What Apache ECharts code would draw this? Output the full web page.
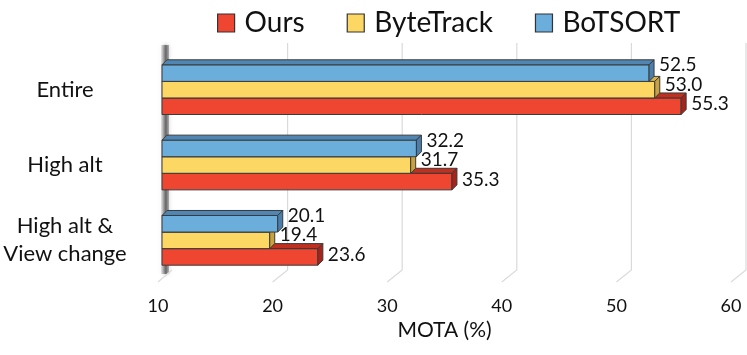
<!DOCTYPE html>
<html>
<head>
<meta charset="utf-8">
<script src="https://cdn.jsdelivr.net/npm/echarts@6/dist/echarts.min.js"></script>
<style>
  html, body { margin: 0; padding: 0; background: #fff; }
  #chart { width: 747px; height: 355px; }
</style>
</head>
<body>
<div id="chart"></div>
<script>
var categories = ['Entire', 'High alt', 'High alt &\nView change'];
var ours = [55.3, 35.3, 23.6];
var byteTrack = [53.0, 31.7, 19.4];
var boTSORT = [52.5, 32.2, 20.1];
var xTicks = [10, 20, 30, 40, 50, 60];

var FONT = 'Lato';
var SHIFT = 4;   // bar front plane sits a bit right of the label plane
var DEPTH = 5;   // 3d depth of bars

var chart = echarts.init(document.getElementById('chart'));

// one bar per category: front face + top + right side + value label
function barItem(slot, faceColors, labelDy) {
    return function (params, api) {
        var v = api.value(0);
        var c = api.value(1);
        var start = api.coord([xTicks[0], c]);
        var end = api.coord([v, c]);
        var band = api.size([0, 1])[1];
        var h = band * 0.22;
        var x0 = start[0] + SHIFT, x1 = end[0] + SHIFT;
        var y0 = start[1] - 1.5 * h + slot * h, y1 = y0 + h;
        var d = DEPTH;
        var stroke = { stroke: '#3a3a3a', lineWidth: 1 };
        return {
            type: 'group',
            children: [{
                type: 'polygon',
                shape: { points: [[x0, y0], [x1, y0], [x1, y1], [x0, y1]] },
                style: Object.assign({ fill: api.visual('color') }, stroke)
            }, {
                type: 'polygon',
                shape: { points: [[x0, y0], [x0 + d, y0 - d], [x1 + d, y0 - d], [x1, y0]] },
                style: Object.assign({ fill: faceColors[0] }, stroke)
            }, {
                type: 'polygon',
                shape: { points: [[x1, y0], [x1 + d, y0 - d], [x1 + d, y1 - d], [x1, y1]] },
                style: Object.assign({ fill: faceColors[1] }, stroke)
            }, {
                type: 'text',
                style: {
                    x: x1 + d + 5,
                    y: (y0 + y1) / 2 + labelDy,
                    text: v.toFixed(1),
                    fill: '#111',
                    font: '19px ' + FONT,
                    verticalAlign: 'middle'
                }
            }]
        };
    };
}

// back wall grid lines with the little floor step, plus the shaded left wall
function gridItem(params, api) {
    var v = api.value(0);
    var p = api.coord([v, 0]);
    var cs = params.coordSys;
    var top = cs.y - 9, bottom = cs.y + cs.height;
    if (v === xTicks[0]) {
        return {
            type: 'group',
            children: [{
                type: 'rect',
                shape: { x: p[0] + SHIFT - 1, y: top + 2, width: 8, height: bottom - top - 6 },
                style: {
                    fill: new echarts.graphic.LinearGradient(0, 0, 1, 0, [
                        { offset: 0, color: 'rgba(120,120,120,0.15)' },
                        { offset: 0.6, color: 'rgba(70,70,70,0.75)' },
                        { offset: 1, color: 'rgba(110,110,110,0.5)' }
                    ]),
                    shadowBlur: 4,
                    shadowColor: 'rgba(0,0,0,0.35)'
                }
            }, {
                type: 'polyline',
                shape: { points: [[p[0] + 14, bottom - 8], [p[0], bottom + 4]] },
                style: { stroke: '#dcdcdc', lineWidth: 1.2, fill: null }
            }]
        };
    }
    return {
        type: 'polyline',
        shape: { points: [[p[0] + 15, top], [p[0] + 15, bottom - 8], [p[0], bottom + 4]] },
        style: { stroke: '#dadada', lineWidth: 1.2, fill: null }
    };
}

function toPairs(arr) {
    return arr.map(function (v, i) { return [v, i]; });
}

var option = {
    animation: false,
    legend: {
        left: 212,
        top: 4,
        icon: 'rect',
        itemWidth: 17,
        itemHeight: 18,
        itemGap: 42,
        itemStyle: { borderColor: '#333', borderWidth: 1.2 },
        textStyle: { fontFamily: FONT, fontSize: 28, color: '#111', padding: [0, 0, 0, 5] },
        data: ['Ours', 'ByteTrack', 'BoTSORT']
    },
    grid: { left: 158, right: 16, top: 52, bottom: 77 },
    xAxis: {
        type: 'value',
        min: 10,
        max: 60,
        interval: 10,
        axisLine: { show: false },
        axisTick: { show: false },
        splitLine: { show: false },
        axisLabel: { margin: 19, fontFamily: FONT, fontSize: 18, color: '#111' },
        name: 'MOTA (%)',
        nameLocation: 'middle',
        nameGap: 42,
        nameTextStyle: { fontFamily: FONT, fontSize: 21, color: '#111' }
    },
    yAxis: {
        type: 'category',
        inverse: true,
        data: categories,
        axisLine: { show: false },
        axisTick: { show: false },
        axisLabel: {
            margin: 93,
            align: 'center',
            fontFamily: FONT,
            fontSize: 22,
            lineHeight: 28,
            color: '#111'
        }
    },
    series: [{
        type: 'custom',
        name: 'grid',
        silent: true,
        z: 1,
        renderItem: gridItem,
        encode: { x: 0 },
        data: xTicks.map(function (v) { return [v]; })
    }, {
        type: 'custom',
        name: 'Ours',
        z: 2,
        itemStyle: { color: '#EF4632' },
        renderItem: barItem(2, ['#C0301F', '#A8231A'], -2),
        encode: { x: 0, y: 1 },
        data: toPairs(ours)
    }, {
        type: 'custom',
        name: 'ByteTrack',
        z: 3,
        itemStyle: { color: '#FDD764' },
        renderItem: barItem(1, ['#D9B24A', '#C8A23E'], -5),
        encode: { x: 0, y: 1 },
        data: toPairs(byteTrack)
    }, {
        type: 'custom',
        name: 'BoTSORT',
        z: 4,
        itemStyle: { color: '#6BAEDB' },
        renderItem: barItem(0, ['#4F86B3', '#4A7FAD'], -8),
        encode: { x: 0, y: 1 },
        data: toPairs(boTSORT)
    }]
};

chart.setOption(option);
</script>
</body>
</html>
